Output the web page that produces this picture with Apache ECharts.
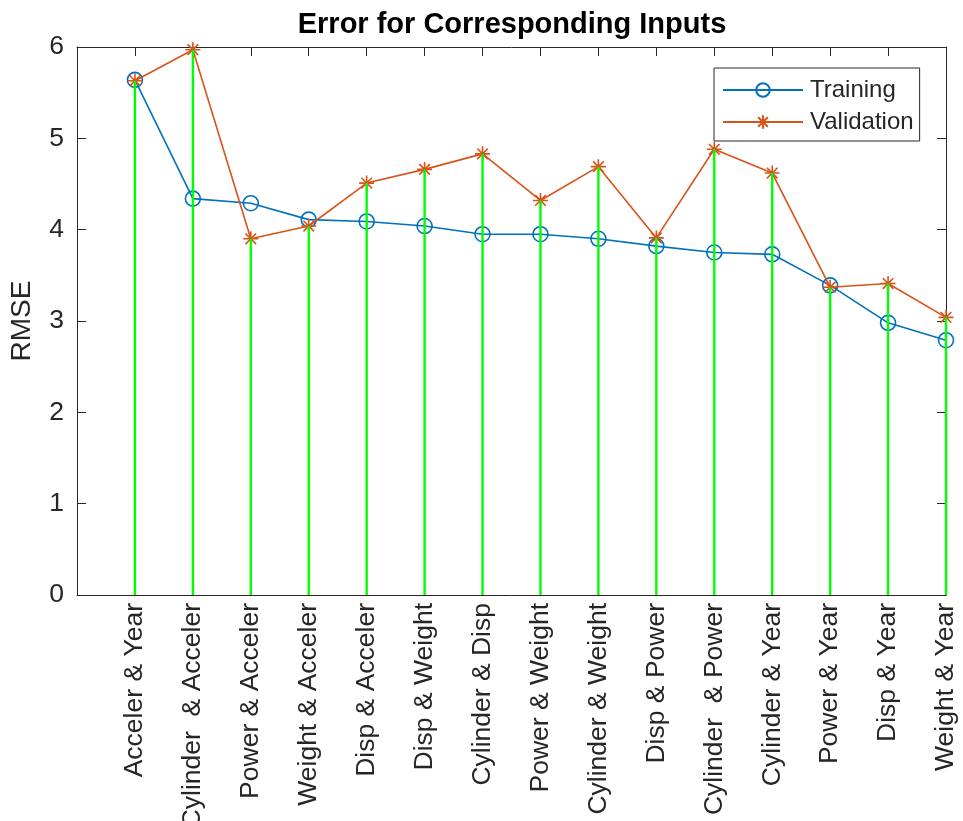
<!DOCTYPE html>
<html>
<head>
<meta charset="utf-8">
<title>Error for Corresponding Inputs</title>
<script src="https://cdn.jsdelivr.net/npm/echarts@6/dist/echarts.min.js"></script>
<style>
  html, body { margin: 0; padding: 0; background: #fff; }
  #chart { width: 963px; height: 821px; }
</style>
</head>
<body>
<div id="chart"></div>
<script>
// Input pairs, ordered by training error
const categories = [
  'Acceler & Year', 'Cylinder  & Acceler', 'Power & Acceler', 'Weight & Acceler',
  'Disp & Acceler', 'Disp & Weight', 'Cylinder & Disp', 'Power & Weight',
  'Cylinder & Weight', 'Disp & Power', 'Cylinder  & Power', 'Cylinder & Year',
  'Power & Year', 'Disp & Year', 'Weight & Year'
];
const trainingRMSE = [5.64, 4.34, 4.29, 4.11, 4.09, 4.04, 3.95, 3.95, 3.90, 3.82, 3.75, 3.73, 3.39, 2.98, 2.79];
const validationRMSE = [5.63, 5.97, 3.90, 4.04, 4.51, 4.66, 4.83, 4.32, 4.69, 3.91, 4.88, 4.62, 3.37, 3.41, 3.04];
const yTicks = [0, 1, 2, 3, 4, 5, 6];

const FONT = '"Liberation Sans", Arial, Helvetica, sans-serif';
const AXIS_COLOR = '#262626';
const BLUE = '#0072BD';
const ORANGE = '#D95319';
const GREEN = '#00FF00';

// Category positions 1..n on a numeric axis spanning 0..n
const toPairs = arr => arr.map((v, i) => [i + 1, v]);

const ASTERISK = 'path://M0,-10L0,10M-10,0L10,0M-7.07,-7.07L7.07,7.07M-7.07,7.07L7.07,-7.07';

const chart = echarts.init(document.getElementById('chart'), null, { renderer: 'canvas' });

const axisLineStyle = { onZero: false, lineStyle: { color: AXIS_COLOR, width: 1 } };
const tickStyle = { inside: true, length: 9, lineStyle: { color: AXIS_COLOR, width: 1 } };

chart.setOption({
  animation: false,
  backgroundColor: '#ffffff',
  title: {
    text: 'Error for Corresponding Inputs',
    left: 507,
    textAlign: 'center',
    top: 5,
    textStyle: { fontFamily: FONT, fontSize: 29, fontWeight: 'bold', color: '#000000' }
  },
  legend: {
    data: ['Training', 'Validation'],
    orient: 'vertical',
    left: 714,
    top: 68,
    padding: [10, 6, 7, 8],
    itemWidth: 80,
    itemHeight: 17,
    itemGap: 8,
    backgroundColor: '#ffffff',
    borderColor: AXIS_COLOR,
    borderWidth: 1,
    borderRadius: 0,
    textStyle: { fontFamily: FONT, fontSize: 24, color: AXIS_COLOR, padding: [0, 0, 0, 2] }
  },
  grid: { left: 77, right: 17, top: 47, bottom: 226, containLabel: false, outerBoundsMode: 'none' },
  xAxis: [
    {
      type: 'value',
      min: 0,
      max: categories.length,
      interval: 1,
      position: 'bottom',
      splitLine: { show: false },
      axisLine: axisLineStyle,
      axisTick: tickStyle,
      axisLabel: {
        rotate: 90,
        margin: 8,
        fontFamily: FONT,
        fontSize: 26.5,
        color: AXIS_COLOR,
        formatter: v => (v >= 1 && v <= categories.length ? categories[v - 1] : '')
      }
    },
    {
      type: 'value',
      min: 0,
      max: categories.length,
      interval: 1,
      position: 'top',
      splitLine: { show: false },
      axisLine: axisLineStyle,
      axisTick: tickStyle,
      axisLabel: { show: false }
    }
  ],
  yAxis: [
    {
      type: 'value',
      min: yTicks[0],
      max: yTicks[yTicks.length - 1],
      interval: 1,
      position: 'left',
      name: 'RMSE',
      nameLocation: 'middle',
      nameRotate: 90,
      nameGap: 41,
      nameTextStyle: { fontFamily: FONT, fontSize: 28, color: AXIS_COLOR },
      splitLine: { show: false },
      axisLine: { show: true, onZero: false, lineStyle: { color: AXIS_COLOR, width: 1 } },
      axisTick: tickStyle,
      axisLabel: { margin: 13, fontFamily: FONT, fontSize: 26.5, color: AXIS_COLOR }
    },
    {
      type: 'value',
      min: yTicks[0],
      max: yTicks[yTicks.length - 1],
      interval: 1,
      position: 'right',
      splitLine: { show: false },
      axisLine: { show: true, onZero: false, lineStyle: { color: AXIS_COLOR, width: 1 } },
      axisTick: tickStyle,
      axisLabel: { show: false }
    }
  ],
  series: [
    {
      name: 'Training',
      type: 'line',
      data: toPairs(trainingRMSE),
      symbol: 'circle',
      symbolSize: 15,
      showAllSymbol: true,
      lineStyle: { color: BLUE, width: 1.6 },
      itemStyle: { color: 'rgba(0,0,0,0)', borderColor: BLUE, borderWidth: 1.6 },
      z: 2
    },
    {
      name: 'Validation',
      type: 'line',
      data: toPairs(validationRMSE),
      symbol: ASTERISK,
      symbolSize: 15,
      showAllSymbol: true,
      lineStyle: { color: ORANGE, width: 1.6 },
      itemStyle: { color: 'rgba(0,0,0,0)', borderColor: ORANGE, borderWidth: 1.6 },
      z: 3
    },
    {
      // Stems from zero up to each validation error
      name: 'stems',
      type: 'custom',
      data: toPairs(validationRMSE),
      silent: true,
      z: 4,
      renderItem: (params, api) => {
        const x = api.value(0);
        const y = api.value(1);
        const base = api.coord([x, 0]);
        const top = api.coord([x, y]);
        return {
          type: 'line',
          shape: { x1: base[0], y1: base[1], x2: top[0], y2: top[1] },
          style: { stroke: GREEN, lineWidth: 2.4 }
        };
      }
    }
  ]
});
</script>
</body>
</html>
